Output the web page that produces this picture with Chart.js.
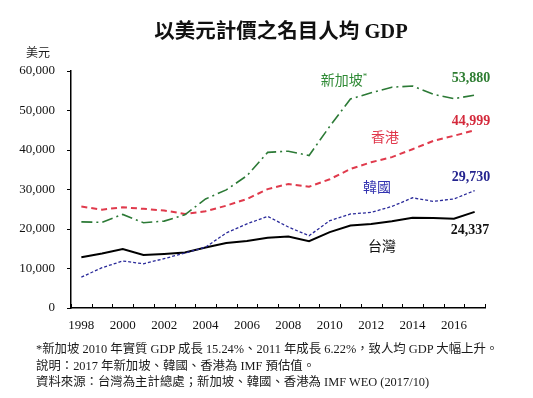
<!DOCTYPE html>
<html lang="zh-Hant">
<head>
<meta charset="utf-8">
<title>以美元計價之名目人均 GDP</title>
<script src="https://cdn.jsdelivr.net/npm/chart.js@4.4.0/dist/chart.umd.min.js"></script>
<style>
  html, body { margin: 0; padding: 0; background: #fff; }
  #wrap { position: relative; width: 533px; height: 398px; overflow: hidden;
          font-family: 'Liberation Serif', 'Noto Sans CJK TC', serif; color: #1a1a1a; }
  #chart { position: absolute; left: 0; top: 0; }
  .txt { position: absolute; white-space: nowrap; transform: translate(-50%, -50%); line-height: 1; }
  .title { left: 281px; top: 31px; font-size: 20.5px; font-weight: bold; color: #111; }
  .unit { left: 38px; top: 53px; font-size: 12px; }
  .lbl { font-size: 14px; }
  .val { font-size: 14px; font-weight: bold; }
  .note { position: absolute; left: 36px; font-size: 12.4px; white-space: nowrap; line-height: 1; transform: translateY(-50%); }
</style>
</head>
<body>
<div id="wrap">
  <canvas id="chart" width="533" height="398"></canvas>

  <div class="txt title">以美元計價之名目人均 GDP</div>
  <div class="txt unit">美元</div>

  <div class="txt lbl" style="left:344px;top:80px;color:#2f8a35">新加坡<sup style="font-size:9px">*</sup></div>
  <div class="txt val" id="v-sg" style="left:471px;top:78px;color:#2e7d32"></div>
  <div class="txt lbl" style="left:385px;top:138px;color:#e0364a">香港</div>
  <div class="txt val" id="v-hk" style="left:471px;top:121px;color:#d42a3c"></div>
  <div class="txt lbl" style="left:377px;top:188px;color:#3333b0">韓國</div>
  <div class="txt val" id="v-kr" style="left:471px;top:177px;color:#24248f"></div>
  <div class="txt val" id="v-tw" style="left:470px;top:230px;color:#111"></div>
  <div class="txt lbl" style="left:382px;top:247px;color:#111">台灣</div>

  <div class="note" style="top:349px">*新加坡 2010 年實質 GDP 成長 15.24%、2011 年成長 6.22%，致人均 GDP 大幅上升。</div>
  <div class="note" style="top:366px">說明：2017 年新加坡、韓國、香港為 IMF 預估值。</div>
  <div class="note" style="top:382px">資料來源：台灣為主計總處；新加坡、韓國、香港為 IMF WEO (2017/10)</div>
</div>

<script>
// ── Data ───────────────────────────────────────────────────

const YEARS = ['1998','1999','2000','2001','2002','2003','2004','2005','2006','2007',
               '2008','2009','2010','2011','2012','2013','2014','2015','2016','2017'];

const SINGAPORE = [21800, 21700, 23700, 21600, 22000, 23600, 27600, 29900, 33500, 39400,
                   39700, 38600, 46000, 52900, 54500, 55900, 56200, 54100, 53000, 53880];
const HONGKONG  = [25700, 24900, 25500, 25100, 24700, 23800, 24500, 25900, 27600, 30100,
                   31400, 30700, 32600, 35200, 36900, 38200, 40200, 42300, 43600, 44999];
const KOREA     = [ 7800, 10200, 11900, 11200, 12500, 13900, 15400, 19000, 21300, 23200,
                   20500, 18300, 22100, 23800, 24200, 25700, 27900, 27000, 27600, 29730];
const TAIWAN    = [12840, 13804, 14908, 13397, 13686, 14066, 15317, 16456, 16934, 17757,
                   18081, 16933, 19197, 20866, 21295, 21973, 22874, 22780, 22592, 24337];

const Y_TICKS = [0, 10000, 20000, 30000, 40000, 50000, 60000];

// ── End labels ─────────────────────────────────────────────

const fmt = v => v.toLocaleString('en-US');
document.getElementById('v-sg').textContent = fmt(SINGAPORE[SINGAPORE.length - 1]);
document.getElementById('v-hk').textContent = fmt(HONGKONG[HONGKONG.length - 1]);
document.getElementById('v-kr').textContent = fmt(KOREA[KOREA.length - 1]);
document.getElementById('v-tw').textContent = fmt(TAIWAN[TAIWAN.length - 1]);

// ── Chart ──────────────────────────────────────────────────

const SERIF = "'Liberation Serif', 'Times New Roman', serif";
const line = (data, color, width, dash) => ({
  data, borderColor: color, borderWidth: width, borderDash: dash,
  pointRadius: 0, tension: 0, fill: false,
});

// small tick marks on the x axis, pointing up, between the years
const innerTicks = {
  id: 'innerTicks',
  afterDraw(chart) {
    const x = chart.scales.x, ctx = chart.ctx;
    const step = x.getPixelForValue(1) - x.getPixelForValue(0);
    ctx.save();
    ctx.strokeStyle = '#000';
    ctx.lineWidth = 1;
    ctx.beginPath();
    for (let i = 0; i <= YEARS.length; i++) {
      const px = Math.round(x.getPixelForValue(i) - step / 2) + 0.5;
      ctx.moveTo(px, x.top);
      ctx.lineTo(px, x.top - 4);
    }
    ctx.stroke();
    ctx.restore();
  },
};

new Chart(document.getElementById('chart'), {
  type: 'line',
  data: {
    labels: YEARS,
    datasets: [
      line(SINGAPORE, '#2c7a36', 1.6, [11, 4, 2, 4]),
      line(HONGKONG,  '#e03a4c', 2,   [6, 4]),
      line(KOREA,     '#2a2a9a', 1.3, [3, 2]),
      line(TAIWAN,    '#000000', 2,   []),
    ],
  },
  options: {
    responsive: false,
    animation: false,
    layout: { padding: { top: 71, right: 48, left: 0, bottom: 0 } },
    plugins: { legend: { display: false }, tooltip: { enabled: false } },
    scales: {
      x: {
        offset: true,
        grid: { display: true, drawOnChartArea: false, drawTicks: false },
        border: { color: '#000', width: 1.5 },
        ticks: {
          autoSkip: false, maxRotation: 0, padding: 10, color: '#111',
          font: { family: SERIF, size: 13 },
          callback: (v, i) => (i % 2 === 0 ? YEARS[i] : ''),
        },
        afterFit: s => { s.height = 90; },
      },
      y: {
        min: Y_TICKS[0],
        max: Y_TICKS[Y_TICKS.length - 1],
        afterBuildTicks: s => { s.ticks = Y_TICKS.map(v => ({ value: v })); },
        grid: { drawOnChartArea: false, tickLength: 4, color: '#000', lineWidth: 1 },
        border: { color: '#000', width: 1.5 },
        ticks: { padding: 12, color: '#111', font: { family: SERIF, size: 13 }, callback: v => fmt(v) },
        afterFit: s => { s.width = 71; },
      },
    },
  },
  plugins: [innerTicks],
});
</script>
</body>
</html>
